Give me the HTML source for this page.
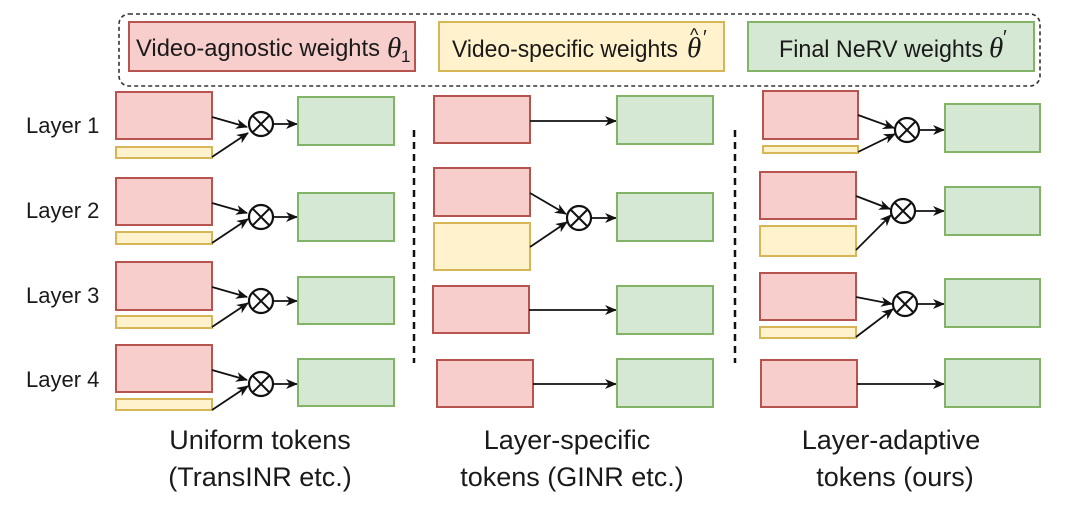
<!DOCTYPE html>
<html><head><meta charset="utf-8"><style>
html,body{margin:0;padding:0;background:#fff;}
svg{display:block;}
text{font-family:"Liberation Sans",sans-serif;fill:#1a1a1a;}
.r{fill:#f8cecc;stroke:#b85450;stroke-width:2;}
.y{fill:#fff2cc;stroke:#d6b656;stroke-width:2;}
.g{fill:#d5e8d4;stroke:#82b366;stroke-width:2;}
.a{stroke:#111;stroke-width:1.8;fill:none;marker-end:url(#ah);}
.c{fill:#fff;stroke:#111;stroke-width:2.2;}
.x{stroke:#111;stroke-width:2;}
.d{stroke:#111;stroke-width:2.5;stroke-dasharray:7,5;}
.th{font-family:"Liberation Serif",serif;font-style:italic;}
</style></head><body>
<svg width="1080" height="506" viewBox="0 0 1080 506" xmlns="http://www.w3.org/2000/svg">
<defs>
<marker id="ah" markerWidth="12" markerHeight="10" refX="11" refY="5" orient="auto" markerUnits="userSpaceOnUse">
<path d="M0,0 L12,5 L0,10 L3.5,5 Z" fill="#111"/>
</marker>
<g id="ot"><circle class="c" r="12"/><line class="x" x1="-8.5" y1="-8.5" x2="8.5" y2="8.5"/><line class="x" x1="-8.5" y1="8.5" x2="8.5" y2="-8.5"/></g>
</defs>

<!-- legend -->
<rect x="119" y="14" width="921" height="72" rx="10" fill="none" stroke="#333" stroke-width="1.6" stroke-dasharray="4,3"/>
<rect class="r" x="129" y="22" width="286" height="49"/>
<text x="136" y="56" font-size="24" textLength="244" lengthAdjust="spacingAndGlyphs">Video-agnostic weights</text>
<text x="387" y="57" font-size="29" class="th">θ</text><text x="401" y="62" font-size="17" font-family="Liberation Serif">1</text>
<rect class="y" x="439" y="22" width="285" height="49"/>
<text x="452" y="57" font-size="24" textLength="226" lengthAdjust="spacingAndGlyphs">Video-specific weights</text>
<text x="687" y="57" font-size="29" class="th">θ</text><text x="690" y="41" font-size="18">^</text><text x="703" y="44" font-size="20">′</text>
<rect class="g" x="748" y="22" width="286" height="49"/>
<text x="779" y="57" font-size="24" textLength="204" lengthAdjust="spacingAndGlyphs">Final NeRV weights</text>
<text x="989" y="57" font-size="29" class="th">θ</text><text x="1003" y="44" font-size="20">′</text>

<!-- layer labels -->
<text x="26" y="133" font-size="22">Layer 1</text>
<text x="26" y="218" font-size="22">Layer 2</text>
<text x="26" y="303" font-size="22">Layer 3</text>
<text x="26" y="387" font-size="22">Layer 4</text>

<!-- column 1 -->
<rect class="r" x="116" y="92" width="96" height="47"/><rect class="y" x="116" y="147" width="96" height="11"/>
<path class="a" d="M212,117 L247,127"/><path class="a" d="M212,157 L248,133"/>
<use href="#ot" x="261" y="124"/><path class="a" d="M273,124 L297,124"/>
<rect class="g" x="298" y="97" width="96" height="48"/>

<rect class="r" x="116" y="178" width="96" height="47"/><rect class="y" x="116" y="232" width="96" height="12"/>
<path class="a" d="M212,203 L247,213"/><path class="a" d="M212,243 L248,219"/>
<use href="#ot" x="261" y="217"/><path class="a" d="M273,217 L297,217"/>
<rect class="g" x="298" y="193" width="96" height="48"/>

<rect class="r" x="116" y="262" width="96" height="48"/><rect class="y" x="116" y="316" width="96" height="12"/>
<path class="a" d="M212,287 L247,297"/><path class="a" d="M212,327 L248,303"/>
<use href="#ot" x="261" y="301"/><path class="a" d="M273,301 L297,301"/>
<rect class="g" x="298" y="277" width="96" height="47"/>

<rect class="r" x="116" y="345" width="96" height="47"/><rect class="y" x="116" y="399" width="96" height="11"/>
<path class="a" d="M212,370 L247,380"/><path class="a" d="M212,410 L248,386"/>
<use href="#ot" x="261" y="384"/><path class="a" d="M273,384 L297,384"/>
<rect class="g" x="298" y="359" width="96" height="47"/>

<line class="d" x1="414" y1="130" x2="414" y2="363"/>
<line class="d" x1="735" y1="130" x2="735" y2="363"/>

<!-- column 2 -->
<rect class="r" x="434" y="96" width="96" height="47"/>
<path class="a" d="M530,121 L616,121"/>
<rect class="g" x="617" y="96" width="96" height="48"/>

<rect class="r" x="434" y="168" width="96" height="48"/><rect class="y" x="434" y="223" width="96" height="47"/>
<path class="a" d="M530,193 L566,214"/><path class="a" d="M530,247 L567,222"/>
<use href="#ot" x="579" y="218"/><path class="a" d="M591,218 L616,218"/>
<rect class="g" x="617" y="193" width="96" height="48"/>

<rect class="r" x="433" y="286" width="96" height="47"/>
<path class="a" d="M529,310 L616,310"/>
<rect class="g" x="617" y="286" width="96" height="48"/>

<rect class="r" x="437" y="360" width="96" height="47"/>
<path class="a" d="M533,384 L616,384"/>
<rect class="g" x="617" y="359" width="96" height="48"/>

<!-- column 3 -->
<rect class="r" x="763" y="91" width="95" height="48"/><rect class="y" x="763" y="146" width="95" height="7"/>
<path class="a" d="M858,115 L894,128"/><path class="a" d="M858,152 L895,134"/>
<use href="#ot" x="907" y="130"/><path class="a" d="M919,130 L944,130"/>
<rect class="g" x="945" y="104" width="95" height="48"/>

<rect class="r" x="760" y="172" width="96" height="47"/><rect class="y" x="760" y="226" width="96" height="30"/>
<path class="a" d="M856,196 L890,209"/><path class="a" d="M856,250 L891,215"/>
<use href="#ot" x="903" y="211"/><path class="a" d="M915,211 L944,211"/>
<rect class="g" x="945" y="187" width="95" height="48"/>

<rect class="r" x="760" y="273" width="96" height="47"/><rect class="y" x="760" y="327" width="96" height="11"/>
<path class="a" d="M856,297 L892,304"/><path class="a" d="M856,337 L893,309"/>
<use href="#ot" x="905" y="304"/><path class="a" d="M917,304 L944,304"/>
<rect class="g" x="945" y="279" width="95" height="48"/>

<rect class="r" x="761" y="360" width="96" height="47"/>
<path class="a" d="M857,384 L944,384"/>
<rect class="g" x="945" y="359" width="95" height="48"/>

<!-- captions -->
<g font-size="27" text-anchor="middle">
<text x="260" y="449">Uniform tokens</text>
<text x="260" y="486">(TransINR etc.)</text>
<text x="567" y="449">Layer-specific</text>
<text x="572" y="486">tokens (GINR etc.)</text>
<text x="891" y="449">Layer-adaptive</text>
<text x="895" y="486">tokens (ours)</text>
</g>
</svg>
</body></html>
